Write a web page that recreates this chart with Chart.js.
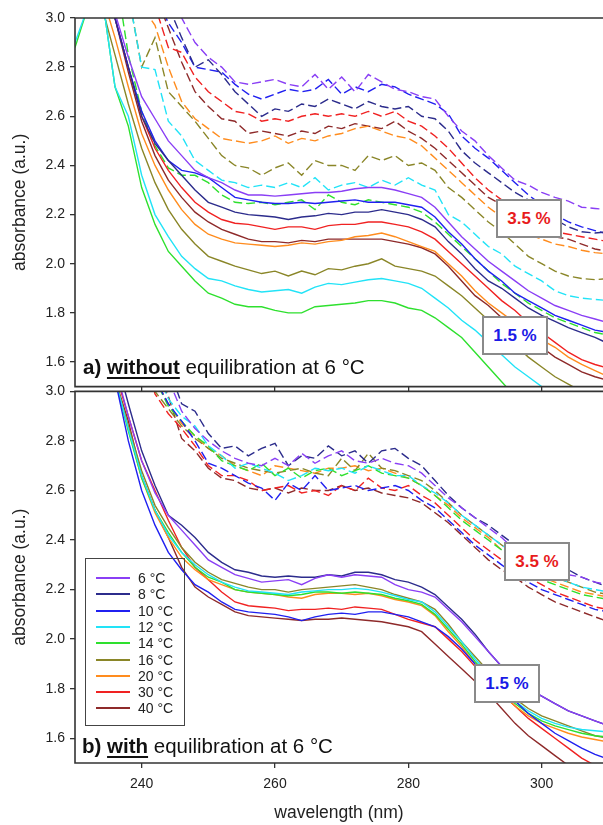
<!DOCTYPE html>
<html>
<head>
<meta charset="utf-8">
<script src="https://cdn.jsdelivr.net/npm/chart.js@4.4.1/dist/chart.umd.min.js"></script>
<style>
  body { margin: 0; background: #fff; font-family: "Liberation Sans", Arial, sans-serif; }
  #wrap { position: relative; width: 603px; height: 825px; overflow: hidden; }
  canvas { position: absolute; left: 0; }
  #topChart { top: 0; }
  #botChart { top: 378px; }
  .panelLabel { position: absolute; font-size: 20.5px; color: #111; white-space: nowrap; }
  .panelLabel b.u { text-decoration: underline; text-decoration-thickness: 2px; text-underline-offset: 3px; }
  .pct { position: absolute; width: 62px; height: 35px; border: 2px solid #8a8a8a; background: #fff;
         font-weight: bold; font-size: 17px; line-height: 35px; text-align: center; }
  #legend { position: absolute; left: 85px; top: 558px; width: 98px; height: 166px; border: 1.5px solid #444; }
  .row { position: absolute; left: 10px; height: 16px; display: flex; align-items: center; font-size: 14px; color: #222; }
  .row span.ln { display: inline-block; width: 34px; height: 0; border-top: 2px solid; margin-right: 8px; }
</style>
</head>
<body>
<div id="wrap">
  <canvas id="topChart" width="603" height="400"></canvas>
  <canvas id="botChart" width="603" height="447"></canvas>

  <div class="panelLabel" style="left:83px; top:355px;"><b>a)</b> <b class="u">without</b> equilibration at 6 °C</div>
  <div class="panelLabel" style="left:82px; top:734px;"><b>b)</b> <b class="u">with</b> equilibration at 6 °C</div>

  <div class="pct" style="left:496px; top:199px; color:#e81c1c;">3.5 %</div>
  <div class="pct" style="left:482px; top:316px; color:#1a1ae6;">1.5 %</div>
  <div class="pct" style="left:504px; top:542px; color:#e81c1c;">3.5 %</div>
  <div class="pct" style="left:474px; top:664px; color:#1a1ae6;">1.5 %</div>

  <div id="legend"></div>
</div>

<script>
// wavelength grid (nm), every 2 nm
const wavelength = [230, 232, 234, 236, 238, 240, 242, 244, 246, 248, 250, 252, 254, 256, 258, 260, 262, 264, 266, 268,
  270, 272, 274, 276, 278, 280, 282, 284, 286, 288, 290, 292, 294, 296, 298, 300, 302, 304, 306, 308, 310];

const temps = ['6 °C', '8 °C', '10 °C', '12 °C', '14 °C', '16 °C', '20 °C', '30 °C', '40 °C'];
const tempColors = ['#8a3ff5', '#2c2c8c', '#2020f0', '#22e3f7', '#2ee02e', '#8a8628', '#ff8c1e', '#f02222', '#8e2a2a'];

const yTicks = [1.6, 1.8, 2.0, 2.2, 2.4, 2.6, 2.8, 3.0];
const xTicks = [240, 260, 280, 300];

// ---- panel a) without equilibration, 1.5 % (solid) ----
const aS6  = [3.2, 3.15, 3.12, 3.02, 2.84, 2.68, 2.59, 2.50, 2.44, 2.38, 2.35, 2.33, 2.30, 2.28, 2.28, 2.275, 2.28, 2.285, 2.29, 2.29, 2.295, 2.305, 2.31, 2.31, 2.30, 2.285, 2.27, 2.23, 2.17, 2.11, 2.06, 2.01, 1.97, 1.93, 1.89, 1.86, 1.83, 1.81, 1.79, 1.775, 1.76];
const aS8  = [3.2, 3.15, 3.12, 3.0, 2.80, 2.60, 2.49, 2.42, 2.36, 2.30, 2.25, 2.23, 2.21, 2.20, 2.195, 2.19, 2.18, 2.19, 2.195, 2.205, 2.20, 2.21, 2.21, 2.22, 2.21, 2.20, 2.18, 2.15, 2.09, 2.04, 1.98, 1.93, 1.90, 1.86, 1.82, 1.79, 1.765, 1.74, 1.72, 1.70, 1.675];
const aS10 = [3.2, 3.15, 3.12, 3.0, 2.80, 2.62, 2.50, 2.42, 2.38, 2.37, 2.35, 2.31, 2.27, 2.26, 2.25, 2.245, 2.245, 2.25, 2.245, 2.25, 2.255, 2.26, 2.25, 2.25, 2.25, 2.24, 2.23, 2.19, 2.13, 2.08, 2.02, 1.97, 1.93, 1.88, 1.85, 1.82, 1.79, 1.77, 1.75, 1.73, 1.72];
const aS12 = [2.90, 3.05, 3.10, 2.72, 2.60, 2.36, 2.20, 2.11, 2.03, 1.98, 1.94, 1.93, 1.91, 1.895, 1.885, 1.89, 1.895, 1.88, 1.905, 1.92, 1.915, 1.925, 1.935, 1.94, 1.93, 1.92, 1.90, 1.86, 1.82, 1.77, 1.73, 1.68, 1.63, 1.58, 1.54, 1.50, 1.46, 1.43, 1.40, 1.37, 1.35];
const aS14 = [2.88, 3.05, 3.10, 2.72, 2.56, 2.31, 2.16, 2.05, 1.99, 1.93, 1.88, 1.86, 1.835, 1.825, 1.825, 1.81, 1.80, 1.80, 1.825, 1.83, 1.835, 1.84, 1.85, 1.85, 1.84, 1.82, 1.81, 1.78, 1.74, 1.70, 1.64, 1.58, 1.52, 1.46, 1.41, 1.36, 1.32, 1.28, 1.25, 1.22, 1.19];
const aS16 = [3.2, 3.15, 3.05, 2.85, 2.65, 2.47, 2.33, 2.22, 2.14, 2.08, 2.03, 2.01, 1.99, 1.975, 1.96, 1.97, 1.95, 1.97, 1.955, 1.98, 1.975, 1.99, 2.00, 2.02, 1.99, 1.98, 1.97, 1.95, 1.91, 1.87, 1.82, 1.77, 1.72, 1.67, 1.62, 1.58, 1.54, 1.51, 1.48, 1.45, 1.43];
const aS20 = [3.2, 3.15, 3.10, 2.92, 2.72, 2.53, 2.40, 2.30, 2.22, 2.16, 2.12, 2.10, 2.085, 2.08, 2.075, 2.07, 2.075, 2.085, 2.08, 2.09, 2.095, 2.11, 2.115, 2.125, 2.11, 2.09, 2.07, 2.05, 2.00, 1.95, 1.89, 1.84, 1.80, 1.76, 1.72, 1.69, 1.66, 1.62, 1.59, 1.565, 1.54];
const aS30 = [3.2, 3.15, 3.12, 3.0, 2.80, 2.60, 2.47, 2.38, 2.31, 2.25, 2.21, 2.18, 2.165, 2.16, 2.15, 2.14, 2.15, 2.15, 2.14, 2.155, 2.16, 2.16, 2.17, 2.17, 2.16, 2.15, 2.13, 2.10, 2.05, 2.00, 1.95, 1.90, 1.85, 1.81, 1.76, 1.72, 1.68, 1.64, 1.61, 1.59, 1.575];
const aS40 = [3.2, 3.15, 3.12, 3.0, 2.78, 2.58, 2.44, 2.34, 2.27, 2.21, 2.17, 2.14, 2.12, 2.10, 2.09, 2.09, 2.085, 2.095, 2.09, 2.10, 2.10, 2.10, 2.10, 2.10, 2.09, 2.08, 2.065, 2.04, 1.99, 1.93, 1.87, 1.83, 1.78, 1.73, 1.69, 1.66, 1.62, 1.59, 1.56, 1.54, 1.525];

// ---- panel a) without equilibration, 3.5 % (dashed) ----
const aD6  = [3.6, 3.5, 3.4, 3.35, 3.3, 3.25, 3.2, 3.1, 3.0, 2.90, 2.84, 2.80, 2.74, 2.73, 2.74, 2.75, 2.73, 2.72, 2.77, 2.71, 2.76, 2.70, 2.77, 2.74, 2.71, 2.70, 2.68, 2.67, 2.60, 2.54, 2.50, 2.44, 2.39, 2.34, 2.32, 2.29, 2.27, 2.255, 2.23, 2.225, 2.22];
const aD8  = [3.6, 3.5, 3.4, 3.35, 3.3, 3.2, 3.15, 3.05, 2.92, 2.80, 2.83, 2.77, 2.70, 2.65, 2.60, 2.63, 2.62, 2.65, 2.64, 2.67, 2.65, 2.63, 2.66, 2.64, 2.63, 2.64, 2.60, 2.59, 2.54, 2.46, 2.41, 2.37, 2.33, 2.29, 2.26, 2.23, 2.18, 2.15, 2.13, 2.125, 2.13];
const aD10 = [3.6, 3.5, 3.4, 3.35, 3.3, 3.2, 3.1, 2.98, 2.90, 2.80, 2.79, 2.78, 2.73, 2.69, 2.67, 2.69, 2.71, 2.70, 2.71, 2.75, 2.69, 2.72, 2.70, 2.73, 2.72, 2.69, 2.67, 2.65, 2.61, 2.52, 2.47, 2.43, 2.38, 2.33, 2.28, 2.24, 2.20, 2.17, 2.15, 2.135, 2.12];
const aD12 = [3.6, 3.5, 3.4, 3.25, 3.10, 2.80, 2.79, 2.58, 2.52, 2.42, 2.38, 2.34, 2.33, 2.31, 2.32, 2.31, 2.33, 2.31, 2.35, 2.30, 2.32, 2.33, 2.31, 2.34, 2.32, 2.35, 2.32, 2.30, 2.20, 2.17, 2.12, 2.07, 2.04, 1.99, 1.96, 1.93, 1.89, 1.87, 1.86, 1.855, 1.85];
const aD14 = [3.6, 3.5, 3.4, 3.2, 2.85, 2.62, 2.48, 2.39, 2.36, 2.36, 2.33, 2.28, 2.25, 2.245, 2.25, 2.24, 2.25, 2.26, 2.22, 2.28, 2.25, 2.24, 2.26, 2.25, 2.24, 2.23, 2.21, 2.17, 2.12, 2.07, 2.02, 1.97, 1.92, 1.88, 1.84, 1.81, 1.78, 1.76, 1.74, 1.72, 1.71];
const aD16 = [3.6, 3.5, 3.4, 3.3, 3.1, 2.80, 2.92, 2.70, 2.64, 2.58, 2.51, 2.44, 2.40, 2.39, 2.36, 2.39, 2.41, 2.36, 2.42, 2.40, 2.40, 2.38, 2.44, 2.42, 2.44, 2.40, 2.41, 2.38, 2.31, 2.27, 2.22, 2.17, 2.13, 2.08, 2.03, 2.00, 1.97, 1.95, 1.94, 1.935, 1.94];
const aD20 = [3.6, 3.5, 3.4, 3.3, 3.15, 3.05, 2.97, 2.80, 2.66, 2.59, 2.55, 2.51, 2.50, 2.49, 2.50, 2.52, 2.49, 2.51, 2.50, 2.52, 2.53, 2.55, 2.56, 2.54, 2.52, 2.51, 2.48, 2.43, 2.38, 2.33, 2.28, 2.23, 2.19, 2.15, 2.12, 2.10, 2.08, 2.07, 2.055, 2.045, 2.04];
const aD30 = [3.6, 3.5, 3.4, 3.3, 3.25, 3.2, 3.05, 2.88, 2.86, 2.76, 2.70, 2.66, 2.62, 2.61, 2.58, 2.59, 2.58, 2.60, 2.61, 2.60, 2.61, 2.60, 2.62, 2.60, 2.62, 2.58, 2.56, 2.52, 2.47, 2.41, 2.35, 2.30, 2.26, 2.22, 2.18, 2.15, 2.13, 2.12, 2.11, 2.10, 2.09];
const aD40 = [3.6, 3.5, 3.4, 3.3, 3.25, 3.2, 3.1, 2.96, 2.82, 2.70, 2.64, 2.59, 2.58, 2.53, 2.54, 2.53, 2.52, 2.54, 2.53, 2.56, 2.55, 2.57, 2.56, 2.55, 2.58, 2.54, 2.51, 2.47, 2.42, 2.37, 2.32, 2.27, 2.24, 2.20, 2.16, 2.13, 2.11, 2.10, 2.08, 2.06, 2.05];

// ---- panel b) with equilibration, 1.5 % (solid) ----
const bS6  = [3.4, 3.35, 3.3, 3.1, 2.90, 2.72, 2.59, 2.50, 2.44, 2.38, 2.32, 2.29, 2.26, 2.245, 2.23, 2.235, 2.24, 2.22, 2.245, 2.26, 2.25, 2.26, 2.255, 2.25, 2.22, 2.20, 2.19, 2.17, 2.12, 2.07, 2.01, 1.95, 1.89, 1.84, 1.80, 1.77, 1.74, 1.71, 1.69, 1.67, 1.65];
const bS8  = [3.4, 3.35, 3.25, 3.15, 2.95, 2.76, 2.62, 2.50, 2.46, 2.41, 2.35, 2.31, 2.28, 2.27, 2.255, 2.25, 2.255, 2.25, 2.25, 2.26, 2.255, 2.27, 2.27, 2.26, 2.24, 2.23, 2.21, 2.18, 2.13, 2.08, 2.02, 1.95, 1.89, 1.84, 1.80, 1.77, 1.74, 1.71, 1.69, 1.67, 1.65];
const bS10 = [3.4, 3.3, 3.2, 3.05, 2.80, 2.60, 2.46, 2.35, 2.28, 2.22, 2.19, 2.15, 2.12, 2.11, 2.105, 2.10, 2.09, 2.075, 2.09, 2.10, 2.105, 2.10, 2.11, 2.11, 2.10, 2.09, 2.07, 2.05, 2.01, 1.96, 1.90, 1.85, 1.80, 1.75, 1.70, 1.66, 1.62, 1.59, 1.56, 1.535, 1.515];
const bS12 = [3.4, 3.3, 3.2, 3.05, 2.85, 2.66, 2.52, 2.42, 2.35, 2.30, 2.26, 2.23, 2.21, 2.195, 2.19, 2.185, 2.18, 2.19, 2.195, 2.20, 2.20, 2.205, 2.20, 2.19, 2.175, 2.16, 2.15, 2.11, 2.05, 1.99, 1.92, 1.86, 1.80, 1.75, 1.71, 1.68, 1.66, 1.645, 1.635, 1.63, 1.625];
const bS14 = [3.4, 3.3, 3.2, 3.05, 2.84, 2.65, 2.52, 2.43, 2.35, 2.29, 2.25, 2.23, 2.20, 2.19, 2.185, 2.18, 2.175, 2.18, 2.19, 2.19, 2.185, 2.19, 2.185, 2.18, 2.165, 2.155, 2.14, 2.10, 2.04, 1.98, 1.91, 1.85, 1.79, 1.74, 1.70, 1.67, 1.65, 1.635, 1.62, 1.61, 1.605];
const bS16 = [3.4, 3.3, 3.2, 3.05, 2.86, 2.68, 2.54, 2.45, 2.37, 2.31, 2.27, 2.24, 2.225, 2.21, 2.20, 2.20, 2.19, 2.20, 2.205, 2.21, 2.215, 2.22, 2.21, 2.20, 2.18, 2.165, 2.15, 2.12, 2.06, 1.99, 1.93, 1.87, 1.81, 1.76, 1.72, 1.69, 1.67, 1.65, 1.63, 1.61, 1.60];
const bS20 = [3.4, 3.3, 3.2, 3.05, 2.85, 2.65, 2.51, 2.41, 2.33, 2.28, 2.24, 2.22, 2.20, 2.19, 2.185, 2.18, 2.17, 2.165, 2.18, 2.185, 2.185, 2.18, 2.185, 2.175, 2.16, 2.15, 2.135, 2.095, 2.03, 1.97, 1.90, 1.84, 1.78, 1.73, 1.69, 1.66, 1.64, 1.62, 1.605, 1.595, 1.585];
const bS30 = [3.4, 3.3, 3.2, 3.08, 2.90, 2.72, 2.60, 2.48, 2.37, 2.29, 2.24, 2.19, 2.15, 2.135, 2.13, 2.125, 2.115, 2.12, 2.12, 2.125, 2.12, 2.13, 2.125, 2.12, 2.10, 2.08, 2.065, 2.05, 2.00, 1.95, 1.89, 1.83, 1.78, 1.73, 1.68, 1.64, 1.60, 1.56, 1.52, 1.49, 1.46];
const bS40 = [3.4, 3.3, 3.2, 3.05, 2.88, 2.66, 2.52, 2.41, 2.29, 2.21, 2.17, 2.14, 2.11, 2.095, 2.09, 2.085, 2.08, 2.075, 2.08, 2.08, 2.085, 2.08, 2.075, 2.07, 2.06, 2.05, 2.03, 1.98, 1.93, 1.88, 1.83, 1.78, 1.72, 1.66, 1.61, 1.57, 1.53, 1.49, 1.46, 1.43, 1.40];

// ---- panel b) with equilibration, 3.5 % (dashed) ----
const bD6  = [3.6, 3.5, 3.45, 3.4, 3.3, 3.2, 3.1, 3.05, 2.92, 2.85, 2.80, 2.76, 2.73, 2.71, 2.70, 2.73, 2.70, 2.75, 2.71, 2.74, 2.76, 2.72, 2.71, 2.73, 2.71, 2.70, 2.67, 2.62, 2.57, 2.53, 2.49, 2.45, 2.41, 2.36, 2.33, 2.30, 2.28, 2.26, 2.25, 2.23, 2.22];
const bD8  = [3.6, 3.5, 3.45, 3.4, 3.3, 3.2, 3.15, 3.1, 2.95, 2.92, 2.83, 2.77, 2.78, 2.74, 2.77, 2.79, 2.70, 2.74, 2.73, 2.78, 2.74, 2.76, 2.71, 2.76, 2.77, 2.73, 2.70, 2.64, 2.58, 2.53, 2.49, 2.46, 2.42, 2.38, 2.34, 2.31, 2.29, 2.28, 2.25, 2.23, 2.21];
const bD10 = [3.6, 3.5, 3.45, 3.4, 3.3, 3.2, 3.05, 2.95, 2.88, 2.80, 2.71, 2.69, 2.66, 2.63, 2.61, 2.56, 2.63, 2.60, 2.66, 2.60, 2.61, 2.62, 2.60, 2.61, 2.62, 2.60, 2.56, 2.53, 2.48, 2.43, 2.38, 2.34, 2.30, 2.26, 2.23, 2.20, 2.18, 2.16, 2.14, 2.12, 2.11];
const bD12 = [3.6, 3.5, 3.45, 3.4, 3.3, 3.2, 3.1, 2.97, 2.90, 2.86, 2.78, 2.74, 2.69, 2.71, 2.69, 2.67, 2.64, 2.66, 2.69, 2.68, 2.69, 2.67, 2.70, 2.68, 2.66, 2.66, 2.62, 2.59, 2.55, 2.50, 2.46, 2.42, 2.38, 2.34, 2.30, 2.27, 2.25, 2.23, 2.21, 2.20, 2.19];
const bD14 = [3.6, 3.5, 3.45, 3.4, 3.3, 3.2, 3.05, 2.94, 2.88, 2.82, 2.78, 2.72, 2.70, 2.68, 2.71, 2.66, 2.69, 2.65, 2.68, 2.69, 2.66, 2.68, 2.70, 2.67, 2.66, 2.65, 2.62, 2.58, 2.53, 2.48, 2.44, 2.40, 2.36, 2.31, 2.27, 2.24, 2.22, 2.20, 2.18, 2.17, 2.16];
const bD16 = [3.6, 3.5, 3.45, 3.4, 3.3, 3.2, 3.0, 2.93, 2.86, 2.81, 2.77, 2.73, 2.71, 2.69, 2.68, 2.67, 2.68, 2.69, 2.67, 2.66, 2.73, 2.68, 2.75, 2.69, 2.68, 2.66, 2.64, 2.60, 2.55, 2.50, 2.46, 2.42, 2.38, 2.34, 2.30, 2.27, 2.25, 2.23, 2.21, 2.19, 2.18];
const bD20 = [3.6, 3.5, 3.45, 3.4, 3.3, 3.2, 3.05, 2.95, 2.87, 2.82, 2.77, 2.74, 2.70, 2.68, 2.66, 2.70, 2.69, 2.68, 2.67, 2.69, 2.69, 2.70, 2.68, 2.69, 2.67, 2.65, 2.62, 2.58, 2.54, 2.49, 2.45, 2.41, 2.36, 2.32, 2.28, 2.25, 2.23, 2.21, 2.19, 2.18, 2.17];
const bD30 = [3.6, 3.5, 3.45, 3.4, 3.3, 3.2, 2.99, 2.91, 2.85, 2.78, 2.70, 2.66, 2.66, 2.64, 2.60, 2.61, 2.62, 2.59, 2.60, 2.58, 2.62, 2.60, 2.65, 2.61, 2.60, 2.62, 2.58, 2.55, 2.50, 2.45, 2.40, 2.36, 2.32, 2.28, 2.25, 2.22, 2.19, 2.17, 2.15, 2.13, 2.12];
const bD40 = [3.6, 3.5, 3.45, 3.4, 3.3, 3.2, 3.1, 2.98, 2.81, 2.76, 2.69, 2.65, 2.64, 2.61, 2.60, 2.61, 2.59, 2.61, 2.60, 2.60, 2.62, 2.60, 2.61, 2.59, 2.58, 2.57, 2.55, 2.51, 2.47, 2.42, 2.37, 2.32, 2.28, 2.25, 2.21, 2.18, 2.15, 2.13, 2.11, 2.09, 2.07];

const panelA = { solid: [aS6, aS8, aS10, aS12, aS14, aS16, aS20, aS30, aS40], dashed: [aD6, aD8, aD10, aD12, aD14, aD16, aD20, aD30, aD40] };
const panelB = { solid: [bS6, bS8, bS10, bS12, bS14, bS16, bS20, bS30, bS40], dashed: [bD6, bD8, bD10, bD12, bD14, bD16, bD20, bD30, bD40] };

const AXIS_COLOR = '#333';
const FONT = '"Liberation Sans", Arial, sans-serif';

function toPoints(vals) {
    return wavelength.map((w, i) => ({ x: w, y: vals[i] }));
}

function buildDatasets(panel) {
    const sets = [];
    panel.solid.forEach((vals, i) => sets.push({
        label: temps[i] + ' 1.5 %', data: toPoints(vals),
        borderColor: tempColors[i], borderWidth: 1.4, pointRadius: 0, tension: 0, fill: false
    }));
    panel.dashed.forEach((vals, i) => sets.push({
        label: temps[i] + ' 3.5 %', data: toPoints(vals),
        borderColor: tempColors[i], borderWidth: 1.4, borderDash: [9, 4], pointRadius: 0, tension: 0, fill: false
    }));
    return sets;
}

// draws the panel box (top, left, bottom edges)
const framePlugin = {
    id: 'frame',
    afterDatasetsDraw(chart) {
        const { ctx, chartArea: a } = chart;
        ctx.save();
        ctx.strokeStyle = AXIS_COLOR;
        ctx.lineWidth = 1.6;
        ctx.beginPath();
        ctx.moveTo(a.right + 2, a.top);
        ctx.lineTo(a.left, a.top);
        ctx.lineTo(a.left, a.bottom);
        ctx.lineTo(a.right + 2, a.bottom);
        ctx.stroke();
        ctx.restore();
    }
};

function makeChart(id, panel, isBottom) {
    return new Chart(document.getElementById(id), {
        type: 'line',
        data: { datasets: buildDatasets(panel) },
        plugins: [framePlugin],
        options: {
            responsive: false,
            animation: false,
            layout: { padding: { top: isBottom ? 12 : 18, right: 0, bottom: 0, left: 0 } },
            plugins: { legend: { display: false }, tooltip: { enabled: false } },
            scales: {
                x: {
                    type: 'linear', min: 230, max: 309.2,
                    afterBuildTicks: s => { s.ticks = xTicks.map(v => ({ value: v })); },
                    afterFit: s => { s.height = isBottom ? 62 : 10; },
                    border: { display: false },
                    grid: { drawOnChartArea: false, drawTicks: true, tickLength: 5, color: AXIS_COLOR, lineWidth: 1.3 },
                    ticks: { display: isBottom, font: { family: FONT, size: 14 }, color: '#222', padding: 8, maxRotation: 0 },
                    title: { display: isBottom, text: 'wavelength (nm)', font: { family: FONT, size: 17.5 }, color: '#222', padding: { top: 0, bottom: 1 } }
                },
                y: {
                    min: 1.5, max: 3.0,
                    afterBuildTicks: s => { s.ticks = yTicks.map(v => ({ value: v })); },
                    afterFit: s => { s.width = 75; },
                    border: { display: false },
                    grid: { drawOnChartArea: false, drawTicks: true, tickLength: 5, color: AXIS_COLOR, lineWidth: 1.3 },
                    ticks: { font: { family: FONT, size: 14 }, color: '#222', padding: 5, callback: v => v.toFixed(1) },
                    title: { display: true, text: 'absorbance (a.u.)', font: { family: FONT, size: 17.5 }, color: '#222', padding: { top: 10, bottom: 0 } }
                }
            }
        }
    });
}

function buildLegend() {
    const box = document.getElementById('legend');
    temps.forEach((t, i) => {
        const row = document.createElement('div');
        row.className = 'row';
        row.style.top = (11 + i * 16.3) + 'px';
        row.innerHTML = '<span class="ln" style="border-color:' + tempColors[i] + '"></span>' + t;
        box.appendChild(row);
    });
}

window.onload = () => {
    makeChart('topChart', panelA, false);
    makeChart('botChart', panelB, true);
    buildLegend();
};
</script>
</body>
</html>
